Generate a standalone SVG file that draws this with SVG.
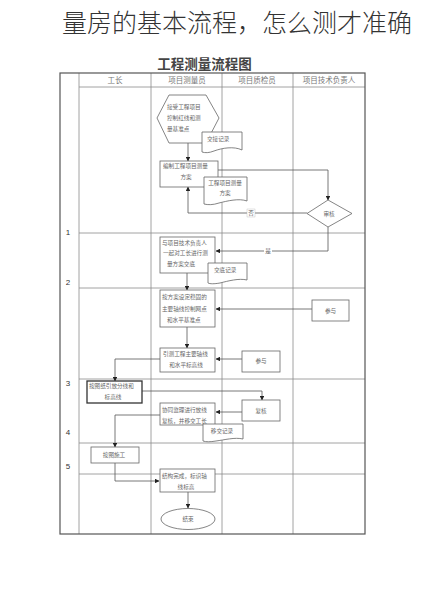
<svg xmlns="http://www.w3.org/2000/svg" width="423" height="600" viewBox="0 0 423 600">
<style>
.grid{stroke:#8a8a8a;stroke-width:0.8;fill:none}
.outer{stroke:#555;stroke-width:1.2;fill:none}
.node{fill:#fff;stroke:#666;stroke-width:0.8}
.bold{fill:#fff;stroke:#333;stroke-width:1.3}
.conn{fill:none;stroke:#555;stroke-width:0.8}
.t{font-family:"Noto Sans CJK SC",sans-serif;font-size:5.6px;fill:#666}
.tc{text-anchor:middle}
.h{font-family:"Noto Sans CJK SC",sans-serif;font-size:7.5px;fill:#777;text-anchor:middle}
.n{font-family:"Liberation Sans",sans-serif;font-size:8px;fill:#333;text-anchor:middle}
</style>
<defs>
<marker id="ah" viewBox="0 0 10 10" refX="9" refY="5" markerWidth="4.5" markerHeight="4.5" markerUnits="userSpaceOnUse" orient="auto">
<path d="M0,0 L10,5 L0,10 Z" fill="#222"/>
</marker>
</defs>
<rect width="423" height="600" fill="#fff"/>
<text x="62" y="32" font-family="Noto Sans CJK SC, sans-serif" font-size="25" font-weight="300" fill="#333">量房的基本流程，怎么测才准确</text>
<text x="204.5" y="69" font-family="Noto Sans CJK SC, sans-serif" font-size="13.5" font-weight="bold" fill="#444" text-anchor="middle">工程测量流程图</text>

<g id="grid">
<line class="grid" x1="79" y1="73" x2="79" y2="534"/>
<line class="grid" x1="151" y1="73" x2="151" y2="534"/>
<line class="grid" x1="222" y1="73" x2="222" y2="534"/>
<line class="grid" x1="293" y1="73" x2="293" y2="534"/>
<line class="grid" x1="79" y1="87" x2="365" y2="87"/>
<line class="grid" x1="79" y1="233" x2="365" y2="233"/>
<line class="grid" x1="79" y1="288" x2="365" y2="288"/>
<line class="grid" x1="79" y1="379" x2="365" y2="379"/>
<line class="grid" x1="79" y1="443" x2="365" y2="443"/>
<line class="grid" x1="79" y1="474" x2="365" y2="474"/>
<rect class="outer" x="60" y="73" width="305" height="461"/>
<text class="h" x="115" y="83">工长</text>
<text class="h" x="187" y="83">项目测量员</text>
<text class="h" x="257" y="83">项目质检员</text>
<text class="h" x="329" y="83">项目技术负责人</text>
<text class="n" x="68" y="235">1</text>
<text class="n" x="68" y="285">2</text>
<text class="n" x="68" y="386">3</text>
<text class="n" x="68" y="435">4</text>
<text class="n" x="68" y="469">5</text>
</g>

<g id="connectors">
<line class="conn" x1="188" y1="143" x2="188" y2="161" marker-end="url(#ah)"/>
<polyline class="conn" points="218,170 328,170 328,200" marker-end="url(#ah)"/>
<polyline class="conn" points="307,213 188,213 188,187" marker-end="url(#ah)"/>
<polyline class="conn" points="328,227 328,251 216,251" marker-end="url(#ah)"/>
<line class="conn" x1="187" y1="273" x2="187" y2="290" marker-end="url(#ah)"/>
<line class="conn" x1="312" y1="309" x2="216" y2="309" marker-end="url(#ah)"/>
<line class="conn" x1="187" y1="327" x2="187" y2="348" marker-end="url(#ah)"/>
<line class="conn" x1="242" y1="359" x2="216" y2="359" marker-end="url(#ah)"/>
<polyline class="conn" points="160,359 115,359 115,381" marker-end="url(#ah)"/>
<polyline class="conn" points="142,391 262,391 262,400" marker-end="url(#ah)"/>
<line class="conn" x1="242" y1="412" x2="216" y2="412" marker-end="url(#ah)"/>
<polyline class="conn" points="160,415 115,415 115,447" marker-end="url(#ah)"/>
<polyline class="conn" points="115,463 115,481 159,481" marker-end="url(#ah)"/>
<line class="conn" x1="188" y1="492" x2="188" y2="508" marker-end="url(#ah)"/>
<rect x="247" y="209" width="8" height="8" fill="#fff" stroke="#bbb" stroke-width="0.4"/>
<text class="t tc" x="251" y="215">否</text>
<rect x="264" y="247" width="8" height="8" fill="#fff"/>
<text class="t tc" x="268" y="253">是</text>
</g>

<g id="n-start">
<polygon class="node" points="169,95 206,95 219,118 206,143 169,143 157,118"/>
<text class="t" x="167" y="109">接受工程项目</text>
<text class="t" x="167" y="120">控制红线和测</text>
<text class="t" x="167" y="131">量基准点</text>
</g>
<g id="n-doc1">
<path class="node" d="M202,132 H242 V150 C234,146 222,148 214,151 C209,153 205,153 202,152 Z"/>
<text class="t" x="207" y="141">交接记录</text>
</g>
<g id="n-plan">
<rect class="node" x="160" y="161" width="58" height="26"/>
<text class="t" x="163" y="168">编制工程项目测量</text>
<text class="t tc" x="186" y="179">方案</text>
</g>
<g id="n-doc2">
<path class="node" d="M204,177 H247 V201 C239,198 227,201 219,203 C213,205 208,205 204,204 Z"/>
<text class="t tc" x="225" y="185">工程项目测量</text>
<text class="t tc" x="225" y="195">方案</text>
</g>
<g id="n-review">
<polygon class="node" points="328,200 352,213.5 328,227 307,213.5"/>
<text class="t tc" x="329" y="215.5">审核</text>
</g>
<g id="n-brief">
<rect class="node" x="160" y="237" width="55" height="36"/>
<text class="t" x="162" y="245">与项目技术负责人</text>
<text class="t" x="163" y="255">一起对工长进行测</text>
<text class="t" x="167" y="266">量方案交底</text>
</g>
<g id="n-doc3">
<path class="node" d="M208,263 H247 V280 C239,278 228,281 220,283 C214,284 210,284 208,283 Z"/>
<text class="t" x="214" y="272">交底记录</text>
</g>
<g id="n-setup">
<rect class="node" x="160" y="290" width="55" height="37"/>
<text class="t" x="162" y="299">按方案设定稳固的</text>
<text class="t" x="162" y="311">主要轴线控制网点</text>
<text class="t" x="167" y="322">和水平基准点</text>
</g>
<g id="n-part1">
<rect class="node" x="312" y="300" width="37" height="21"/>
<text class="t tc" x="330.5" y="312.5">参与</text>
</g>
<g id="n-lead">
<rect class="node" x="160" y="348" width="55" height="24"/>
<text class="t" x="163" y="356">引测工程主要轴线</text>
<text class="t tc" x="186" y="367">和水平标高线</text>
</g>
<g id="n-part2">
<rect class="node" x="242" y="351" width="38" height="21"/>
<text class="t tc" x="261" y="363">参与</text>
</g>
<g id="n-layout">
<rect class="bold" x="87" y="381" width="55" height="22"/>
<text class="t" x="89" y="387.5">按图纸引放分线和</text>
<text class="t tc" x="113" y="399">标高线</text>
</g>
<g id="n-check">
<rect class="node" x="242" y="400" width="38" height="21"/>
<text class="t tc" x="261" y="412.5">复核</text>
</g>
<g id="n-coop">
<rect class="node" x="160" y="403" width="55" height="22"/>
<text class="t" x="162" y="412">协同监理进行放线</text>
<text class="t" x="162" y="423">复核，并移交工长</text>
</g>
<g id="n-doc4">
<path class="node" d="M203,424 H243 V439 C235,437 224,440 216,441 C210,442 206,442 203,441 Z"/>
<text class="t tc" x="222" y="433">移交记录</text>
</g>
<g id="n-build">
<rect class="node" x="91" y="447" width="48" height="16"/>
<text class="t tc" x="114" y="457">按图施工</text>
</g>
<g id="n-done">
<rect class="node" x="160" y="469" width="55" height="23"/>
<text class="t" x="162" y="478">结构完成，标识轴</text>
<text class="t tc" x="186" y="489">线标高</text>
</g>
<g id="n-end">
<ellipse class="node" cx="188" cy="519" rx="27" ry="10.5"/>
<text class="t tc" x="188" y="521">结束</text>
</g>
</svg>
